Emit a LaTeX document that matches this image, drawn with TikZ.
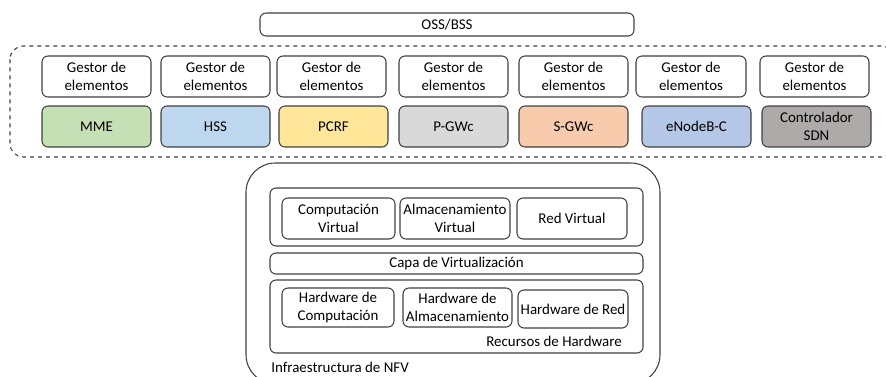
\documentclass[tikz,border=0pt]{standalone}
\usepackage{fontspec}
\setmainfont{Carlito}
\definecolor{lc}{HTML}{404040}
\definecolor{cmme}{HTML}{C5E0B4}
\definecolor{chss}{HTML}{BDD7EE}
\definecolor{cpcrf}{HTML}{FFE699}
\definecolor{cpgw}{HTML}{D9D9D9}
\definecolor{csgw}{HTML}{F8CBAD}
\definecolor{cenb}{HTML}{B4C7E7}
\definecolor{csdn}{HTML}{AEAAAA}
\newcommand\pbox[7]{\node[#6, minimum width={(#4-#2)*0.75pt}, minimum height={(#5-#3)*0.75pt}] (#1) at ({(#2+#4)/2},{(#3+#5)/2}) {#7};}
\tikzset{
  rbox/.style={draw=lc, line width=0.8pt, rounded corners=4.5pt, inner sep=0pt, align=center, font=\fontsize{11.2}{13}\selectfont},
  lbl/.style={inner sep=0pt, font=\fontsize{11.2}{13}\selectfont},
}
\begin{document}
\begin{tikzpicture}[x=0.75pt,y=-0.75pt]
\useasboundingbox (0,0) rectangle (886,376);
% OSS/BSS
\pbox{oss}{260}{13}{634}{36}{rbox}{OSS/BSS}
% dashed container
\draw[lc, dashed, line width=0.8pt, rounded corners=10pt] (10,46) rectangle (894,157);
% element managers
\pbox{g1}{42}{56}{151}{97}{rbox}{Gestor de\\elementos}
\pbox{g2}{161}{56}{270}{97}{rbox}{Gestor de\\elementos}
\pbox{g3}{277}{56}{386}{97}{rbox}{Gestor de\\elementos}
\pbox{g4}{399}{56}{508}{97}{rbox}{Gestor de\\elementos}
\pbox{g5}{519}{56}{628}{97}{rbox}{Gestor de\\elementos}
\pbox{g6}{636}{56}{746}{97}{rbox}{Gestor de\\elementos}
\pbox{g7}{760}{56}{869}{97}{rbox}{Gestor de\\elementos}
% network functions
\pbox{f1}{42}{106}{151}{147}{rbox,fill=cmme}{MME}
\pbox{f2}{161}{106}{270}{147}{rbox,fill=chss}{HSS}
\pbox{f3}{279}{106}{388}{147}{rbox,fill=cpcrf}{PCRF}
\pbox{f4}{399}{106}{508}{147}{rbox,fill=cpgw}{P-GWc}
\pbox{f5}{519}{106}{628}{147}{rbox,fill=csgw}{S-GWc}
\pbox{f6}{642}{106}{751}{147}{rbox,fill=cenb}{eNodeB-C}
\pbox{f7}{762}{106}{871}{147}{rbox,fill=csdn}{Controlador\\SDN}
% NFV infrastructure
\draw[lc, line width=0.8pt, rounded corners=22pt] (246,163) rectangle (660,384);
\node[lbl, anchor=base west] (nfvi) at (271,372) {Infraestructura de NFV};
% virtual resources
\pbox{vr}{270}{188}{643}{246}{rbox}{}
\pbox{vc}{282}{198}{395}{239}{rbox}{Computación\\Virtual}
\pbox{vs}{400}{198}{510}{239}{rbox}{Almacenamiento\\Virtual}
\pbox{vn}{517}{198}{627}{239}{rbox}{Red Virtual}
% virtualization layer
\pbox{vl}{270}{253}{643}{274}{rbox}{Capa de Virtualización}
% hardware resources
\pbox{hr}{270}{280}{643}{353}{rbox}{}
\pbox{hc}{282}{288}{394}{327}{rbox}{Hardware de\\Computación}
\pbox{hs}{403}{288}{512}{327}{rbox}{Hardware de\\Almacenamiento}
\pbox{hn}{518}{290}{628}{328}{rbox}{Hardware de Red}
\node[lbl, anchor=base] (hrl) at (554,346) {Recursos de Hardware};
\end{tikzpicture}
\end{document}
